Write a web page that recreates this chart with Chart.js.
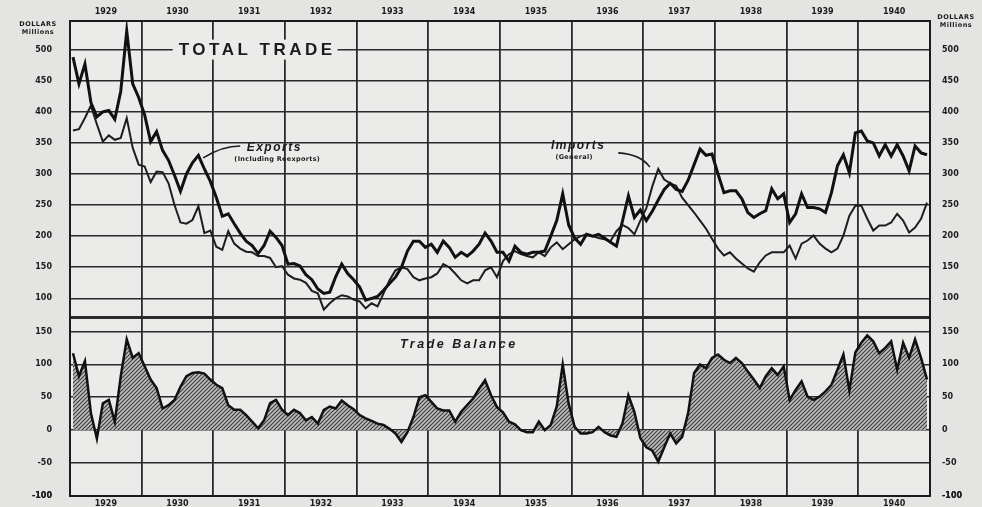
<!DOCTYPE html>
<html>
<head>
<meta charset="utf-8">
<script src="https://cdn.jsdelivr.net/npm/chart.js@4.4.0/dist/chart.umd.min.js"></script>
<style>
  html, body { margin: 0; padding: 0; background: #e4e4e2; }
  #wrap { width: 982px; height: 507px; }
</style>
</head>
<body>
<div id="wrap"><canvas id="trade" width="982" height="507"></canvas></div>
<script>
// monthly values, millions of dollars, Jan 1929 .. Dec 1940 (one row per year)
const years = ['1929', '1930', '1931', '1932', '1933', '1934', '1935', '1936', '1937', '1938', '1939', '1940'];

const exportsData = [
  488, 445, 477, 415, 392, 400, 402, 388, 433, 530, 445, 423,
  395, 352, 368, 338, 322, 298, 272, 300, 318, 330, 308, 288,
  262, 232, 236, 220, 205, 192, 185, 172, 185, 208, 198, 185,
  155, 156, 152, 138, 130, 115, 108, 110, 135, 155, 140, 130,
  118, 97, 100, 103, 113, 124, 134, 150, 176, 192, 192, 182,
  187, 174, 192, 182, 166, 174, 168, 176, 187, 205, 192, 174,
  174, 160, 184, 174, 171, 174, 174, 176, 200, 225, 268, 218,
  197, 187, 203, 200, 203, 197, 190, 184, 224, 265, 230, 242,
  225, 240, 258, 275, 285, 275, 272, 290, 315, 340, 330, 332,
  300, 270, 273, 273, 260, 238, 230, 236, 241, 276, 260, 268,
  222, 236, 268, 246, 246, 244, 238, 270, 313, 331, 302, 366,
  369, 353, 350, 329, 347, 329, 347, 329, 305, 345, 334, 331
];

const importsData = [
  370, 372, 390, 410, 380, 352, 362, 355, 358, 390, 342, 315,
  312, 287, 304, 303, 285, 250, 222, 220, 226, 248, 205, 209,
  183, 178, 208, 188, 180, 175, 174, 168, 168, 165, 150, 152,
  138, 132, 130, 125, 112, 108, 82, 92, 100, 105, 103, 98,
  95, 84, 92, 87, 108, 129, 145, 150, 147, 134, 129, 132,
  134, 140, 155, 150, 140, 129, 124, 129, 129, 145, 150, 134,
  160, 171, 176, 171, 168, 166, 174, 168, 182, 190, 179, 187,
  195, 200, 203, 200, 197, 195, 192, 208, 218, 213, 203, 225,
  245, 280, 308, 291, 285, 281, 262, 250, 238, 225, 212, 196,
  180, 169, 174, 164, 156, 148, 143, 158, 169, 174, 174, 174,
  185, 164, 188, 193, 201, 188, 180, 174, 180, 201, 233, 249,
  249, 228, 209, 217, 217, 222, 236, 225, 206, 214, 228, 254
];

const balanceData = [
  117, 82, 105, 26, -13, 41, 46, 13, 82, 138, 110, 117,
  97, 77, 64, 33, 38, 46, 66, 82, 87, 88, 86, 77,
  69, 64, 38, 31, 31, 23, 13, 3, 15, 41, 46, 31,
  23, 31, 26, 15, 20, 10, 31, 36, 33, 45, 38, 32,
  23, 18, 14, 10, 8, 2, -5, -18, -3, 20, 50, 53,
  43, 33, 30, 30, 13, 28, 38, 48, 63, 76, 53, 35,
  27, 13, 9, 0, -3, -3, 13, 0, 8, 36, 100, 40,
  5, -5, -5, -3, 5, -3, -8, -10, 10, 53, 28, -12,
  -26, -31, -48, -26, -5, -20, -10, 26, 87, 100, 94, 110,
  115, 107, 102, 110, 102, 89, 77, 64, 82, 94, 84, 97,
  46, 61, 74, 51, 46, 51, 59, 69, 92, 115, 60, 118,
  133, 144, 135, 117, 125, 135, 92, 133, 110, 138, 110, 77
];

const upperTicks = [100, 150, 200, 250, 300, 350, 400, 450, 500];
const lowerTicks = [-100, -50, 0, 50, 100, 150];
const upperRange = [70, 546];
const lowerRange = [-100, 172];

const INK = '#1b1b1b';
const PAPER = '#ebebe9';
const tickFont = { family: '"DejaVu Sans", sans-serif', size: 8, weight: 'bold' };

function hatch() {
  const c = document.createElement('canvas');
  c.width = 4; c.height = 4;
  const g = c.getContext('2d');
  g.fillStyle = '#bdbdbb';
  g.fillRect(0, 0, 4, 4);
  g.strokeStyle = '#3c3c3c';
  g.lineWidth = 1.1;
  g.beginPath();
  g.moveTo(0, 4); g.lineTo(4, 0);
  g.moveTo(-1, 1); g.lineTo(1, -1);
  g.moveTo(3, 5); g.lineTo(5, 3);
  g.stroke();
  return g.createPattern(c, 'repeat');
}

const toPoints = arr => arr.map((v, i) => ({ x: i, y: v }));
const yearCentres = years.map((y, k) => 5.5 + 12 * k);

const paperBg = {
  id: 'paperBg',
  beforeDraw(chart) {
    const { ctx, chartArea: a } = chart;
    ctx.save();
    ctx.fillStyle = PAPER;
    ctx.fillRect(a.left, a.top, a.right - a.left, a.bottom - a.top);
    ctx.restore();
  }
};

const notes = {
  id: 'notes',
  afterDatasetsDraw(chart) {
    const { ctx, scales } = chart;
    const px = v => scales.x.getPixelForValue(v);
    const pu = v => scales.yU.getPixelForValue(v);
    const pl = v => scales.yL.getPixelForValue(v);
    ctx.save();
    ctx.fillStyle = INK;
    ctx.strokeStyle = INK;
    ctx.textAlign = 'center';
    ctx.textBaseline = 'middle';

    // title sitting on the 500 grid line
    ctx.font = 'bold 17px "Liberation Sans", sans-serif';
    ctx.letterSpacing = '3.5px';
    const tx = px(30.5), ty = pu(500);
    const tw = ctx.measureText('TOTAL TRADE').width;
    ctx.fillStyle = PAPER;
    ctx.fillRect(tx - tw / 2 - 4, ty - 10, tw + 8, 20);
    ctx.fillStyle = INK;
    ctx.fillText('TOTAL TRADE', tx + 2, ty + 1);

    // exports label
    ctx.font = 'italic bold 12px "Liberation Sans", sans-serif';
    ctx.letterSpacing = '1.5px';
    ctx.fillText('Exports', px(33.7), pu(343));
    ctx.font = 'bold 6.5px "DejaVu Sans", sans-serif';
    ctx.letterSpacing = '0.3px';
    ctx.fillText('(Including Reexports)', px(34.2), pu(324));
    ctx.lineWidth = 1.6;
    ctx.beginPath();
    ctx.moveTo(px(28), pu(345));
    ctx.quadraticCurveTo(px(25), pu(345), px(21.8), pu(326));
    ctx.stroke();

    // imports label
    ctx.font = 'italic bold 12px "Liberation Sans", sans-serif';
    ctx.letterSpacing = '1.5px';
    ctx.fillText('Imports', px(84.6), pu(346));
    ctx.font = 'bold 6.5px "DejaVu Sans", sans-serif';
    ctx.letterSpacing = '0.3px';
    ctx.fillText('(General)', px(83.9), pu(326));
    ctx.beginPath();
    ctx.moveTo(px(91.3), pu(334));
    ctx.quadraticCurveTo(px(95), pu(332), px(96.6), pu(311));
    ctx.stroke();

    // balance label
    ctx.font = 'italic bold 12.5px "Liberation Sans", sans-serif';
    ctx.letterSpacing = '2.5px';
    ctx.fillText('Trade Balance', px(64.6), pl(130));

    // unit captions
    ctx.letterSpacing = '0.5px';
    ctx.font = 'bold 6.5px "DejaVu Sans", sans-serif';
    ctx.fillText('DOLLARS', 38, 24);
    ctx.fillText('Millions', 38, 32);
    ctx.fillText('DOLLARS', 956, 17);
    ctx.fillText('Millions', 956, 25);
    ctx.restore();
  }
};

function yAxis(pos, stack, weight, range, ticks, share, showGrid) {
  return {
    type: 'linear',
    position: pos,
    stack: stack,
    stackWeight: share,
    weight: weight,
    min: range[0],
    max: range[1],
    afterBuildTicks: s => { s.ticks = [range[0], ...ticks, range[1]].map(v => ({ value: v })); },
    afterFit: s => { s.width = pos === 'left' ? 70 : 52; },
    ticks: {
      font: tickFont,
      color: INK,
      padding: 2,
      callback: v => ticks.includes(v) ? String(v) : ''
    },
    grid: {
      display: showGrid,
      // invisible tick marks push the labels away from the frame
      drawTicks: true,
      tickLength: pos === 'left' ? 16 : 10,
      tickColor: 'rgba(0,0,0,0)',
      color: ctx => (ctx.tick && ctx.tick.value === lowerRange[1]) ? 'rgba(0,0,0,0)' : '#2a2a2a',
      lineWidth: ctx => (ctx.tick && ctx.tick.value === upperRange[0]) ? 3 : 1.6
    },
    border: { display: true, color: INK, width: 2 }
  };
}

function yearAxis(pos, height, showGrid) {
  return {
    type: 'linear',
    position: pos,
    min: -0.5,
    max: 143.5,
    afterBuildTicks: s => { s.ticks = yearCentres.map(v => ({ value: v })); },
    afterFit: s => { s.height = height; },
    ticks: {
      font: tickFont,
      color: INK,
      padding: pos === 'top' ? 4 : 3,
      autoSkip: false,
      maxRotation: 0,
      callback: (v, i) => years[i]
    },
    // grid lines fall between the year labels, on the year boundaries
    grid: { display: showGrid, offset: true, drawTicks: false, color: '#2a2a2a', lineWidth: 1.8 },
    border: { display: true, color: INK, width: 2 }
  };
}

new Chart(document.getElementById('trade'), {
  type: 'line',
  data: {
    datasets: [
      {
        label: 'Exports (Including Reexports)',
        data: toPoints(exportsData),
        yAxisID: 'yU',
        borderColor: '#111',
        borderWidth: 3,
        pointRadius: 0,
        tension: 0,
        fill: false
      },
      {
        label: 'Imports (General)',
        data: toPoints(importsData),
        yAxisID: 'yU',
        borderColor: '#1e1e1e',
        borderWidth: 2,
        pointRadius: 0,
        tension: 0,
        fill: false
      },
      {
        label: 'Trade Balance',
        data: toPoints(balanceData),
        yAxisID: 'yL',
        borderColor: '#111',
        borderWidth: 2.5,
        backgroundColor: hatch(),
        pointRadius: 0,
        tension: 0,
        fill: 'origin'
      }
    ]
  },
  options: {
    responsive: false,
    animation: false,
    devicePixelRatio: 1,
    layout: { padding: 0 },
    plugins: {
      legend: { display: false },
      tooltip: { enabled: false }
    },
    scales: {
      x: yearAxis('bottom', 11, true),
      xt: yearAxis('top', 21, false),
      yU: yAxis('left', 'L', 1, upperRange, upperTicks, 296, true),
      yL: yAxis('left', 'L', 0, lowerRange, lowerTicks, 179, true),
      yUR: yAxis('right', 'R', 0, upperRange, upperTicks, 296, false),
      yLR: yAxis('right', 'R', 1, lowerRange, lowerTicks, 179, false)
    }
  },
  plugins: [paperBg, notes]
});
</script>
</body>
</html>
